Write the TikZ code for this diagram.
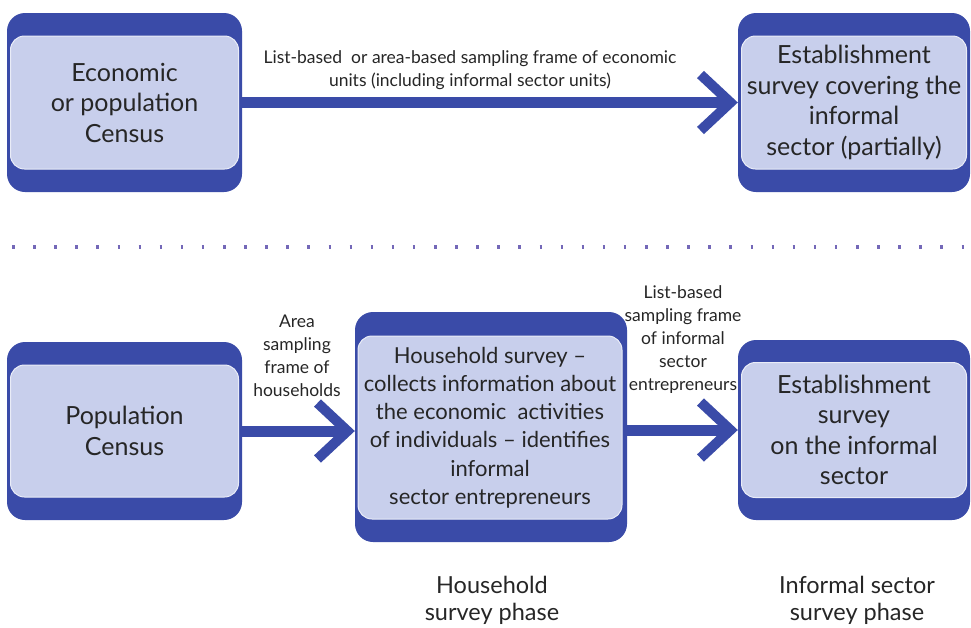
\documentclass[tikz,border=0pt]{standalone}
\usepackage{fontspec}
\setmainfont{Lato}
\usetikzlibrary{arrows.meta}
\definecolor{dkblue}{HTML}{3A4BA8}
\definecolor{ltblue}{HTML}{C8CFEC}
\definecolor{txt}{HTML}{262626}
\definecolor{dotc}{HTML}{7468B8}
\tikzset{
 outerbox/.style={fill=dkblue, rounded corners=18pt, inner sep=0pt},
 innerbox/.style={fill=ltblue, draw=white!60!ltblue, line width=1pt, rounded corners=14pt, inner sep=0pt, align=center, text=txt, font=\fontsize{25}{30.5}\selectfont},
 hhbox/.style={innerbox, font=\fontsize{22}{28.2}\selectfont},
 lbl/.style={align=center, text=txt, font=\fontsize{17.5}{23}\selectfont},
 phase/.style={align=center, text=txt, font=\fontsize{23.5}{27}\selectfont},
 conn/.style={draw=dkblue, line width=11pt, -{Straight Barb[length=30pt,width=56pt,line width=10pt]}},
 dotline/.style={draw=dotc, line width=4pt, dash pattern=on 2.5pt off 18.6pt},
}
\begin{document}
\begin{tikzpicture}[x=1pt,y=-1pt]
\useasboundingbox (0,0) rectangle (971,627);
\fill[white] (0,0) rectangle (971,627);

% top row
\node[outerbox, minimum width=235pt, minimum height=179pt] (b1) at (124.5,102.5) {};
\node[innerbox, minimum width=228pt, minimum height=133pt] (b1t) at (b1) {Economic\\or population\\Census};
\node[outerbox, minimum width=232pt, minimum height=179pt] (b2) at (854,102.5) {};
\node[innerbox, minimum width=225pt, minimum height=133pt] (b2t) at (b2) {Establishment\\survey covering the\\informal\\sector (partially)};
\draw[conn] (b1.east) -- (b2.west);
\node[lbl] (l1) at (470,70.5) {List-based\ \ or area-based sampling frame of economic\\units (including informal sector units)};

% separator
\coordinate (d1) at (12,247);
\coordinate (d2) at (968,247);
\draw[dotline] (d1) -- (d2);

% bottom row
\node[outerbox, minimum width=235pt, minimum height=178pt] (b3) at (124.5,431) {};
\node[innerbox, minimum width=228pt, minimum height=132pt] (b3t) at (b3) {Population\\Census};
\node[outerbox, minimum width=272pt, minimum height=230pt] (b4) at (491,427) {};
\node[hhbox, minimum width=264pt, minimum height=183pt] (b4t) at (490,427.5) {Household survey --\\collects information about\\the economic\ \ activities\\of individuals -- identifies\\informal\\sector entrepreneurs};
\node[outerbox, minimum width=232pt, minimum height=180pt] (b5) at (854,430) {};
\node[innerbox, minimum width=225pt, minimum height=135pt] (b5t) at (b5) {Establishment\\survey\\on the informal\\sector};

\draw[conn] (b3.east) -- (b3.east -| b4.west);
\draw[conn] (b4.east |- b5.west) -- (b5.west);

\node[lbl] (l2) at (297,356) {Area\\sampling\\frame of\\households};
\node[lbl] (l3) at (683,340) {List-based\\sampling frame\\of informal\\sector\\entrepreneurs};

\node[phase] (p1) at (492,600) {Household\\survey phase};
\node[phase] (p2) at (857,600) {Informal sector\\survey phase};
\end{tikzpicture}
\end{document}
